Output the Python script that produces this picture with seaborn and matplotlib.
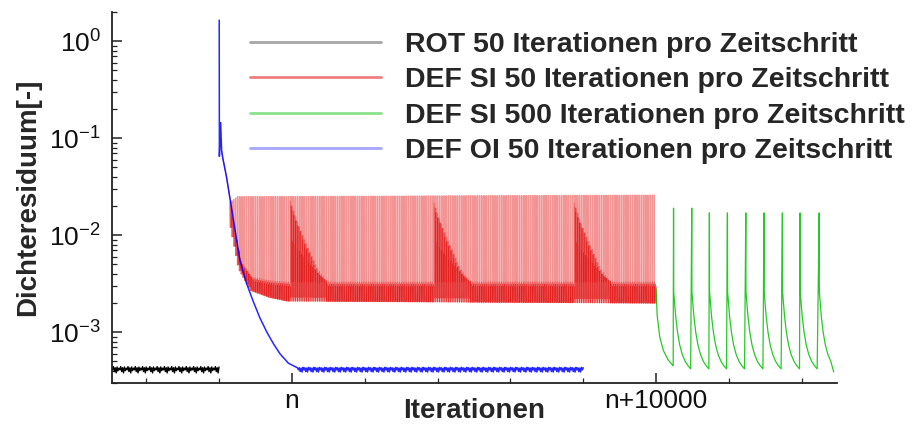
import numpy as np
import pandas as pd
import matplotlib
matplotlib.use("Agg")
import matplotlib.pyplot as plt
import seaborn as sns
from matplotlib.lines import Line2D
from matplotlib.ticker import FixedLocator, FixedFormatter, NullFormatter

# ---------------- data (iterations relative to n) ----------------
series_labels = [
    "ROT 50 Iterationen pro Zeitschritt",
    "DEF SI 50 Iterationen pro Zeitschritt",
    "DEF SI 500 Iterationen pro Zeitschritt",
    "DEF OI 50 Iterationen pro Zeitschritt",
]
x_major_ticks = [0, 10000]
x_major_labels = ["n", "n+10000"]
x_minor_ticks = [-4000, -2000, 2000, 4000, 6000, 8000, 12000, 14000]

# ROT: flat residual with small ripple (sample every 25 iterations)
rot_x_range = [-4930, -2000]
rot_level = 4.1e-4
rot_ripple = [1.00, 1.08, 0.96, 1.05, 0.93, 1.07, 0.98, 1.04]

# DEF OI: decay knots, then flat ripple
oi_x = [-2000, -1995, -1960, -1935, -1900, -1800, -1650, -1430, -1250,
        -1070, -880, -690, -500, -330, -100, 150]
oi_y = [1.65, 0.065, 0.145, 0.075, 0.062, 0.040, 0.018, 5.5e-3, 3.2e-3,
        2.1e-3, 1.4e-3, 1.0e-3, 7.5e-4, 6.0e-4, 4.8e-4, 4.3e-4]
oi_flat_range = [150, 8000]
oi_flat_level = 4.1e-4
oi_ripple = [1.00, 1.05, 0.96, 1.04, 0.95, 1.06]

# DEF SI 50: one spike per 50-iteration time step
si50_range = [-1700, 10000]
si50_step = 50
si50_peak_x = [-1700, -1500, 10000]
si50_peak_y = [0.022, 0.025, 0.026]
si50_floor_x = [-1700, -1430, -1100, -600, -100, 10000]
si50_floor_hi = [0.020, 5.5e-3, 3.7e-3, 3.4e-3, 3.3e-3, 3.3e-3]
si50_floor_lo = [0.015, 4.5e-3, 2.7e-3, 2.3e-3, 2.1e-3, 2.0e-3]
si50_event_x = [-60, 3870, 7720]
si50_event_dx = [0, 250, 500, 750, 1000]
si50_event_y = [0.023, 0.0125, 7.5e-3, 4.6e-3, 3.3e-3]

# DEF SI 500: one spike per 500-iteration time step
si500_start_x = [10000, 10030, 10100, 10200, 10330, 10470]
si500_start_y = [2.8e-3, 1.5e-3, 9.0e-4, 6.5e-4, 5.2e-4, 4.5e-4]
si500_spike_x = [10480, 10980, 11465, 11960, 12465, 12965, 13470, 13955, 14480]
si500_spike_y = [0.019, 0.019, 0.017, 0.017, 0.017, 0.017, 0.017, 0.017, 0.017]
si500_decay_dx = [5, 25, 60, 110, 170, 240, 320, 400, 470]
si500_decay_y = [2.6e-3, 2.1e-3, 1.45e-3, 1.0e-3, 7.4e-4, 5.9e-4, 5.0e-4, 4.5e-4, 4.2e-4]
si500_end_x = 14930


def logi(x, xp, yp):
    return 10 ** np.interp(x, xp, np.log10(yp))


# ---------------- build series ----------------
rx = np.arange(rot_x_range[0], rot_x_range[1] + 1, 25)
ry = rot_level * np.resize(rot_ripple, len(rx))
df_rot = pd.DataFrame({"x": rx, "y": ry})

fx = np.arange(oi_flat_range[0] + 25, oi_flat_range[1] + 1, 25)
fy = oi_flat_level * np.resize(oi_ripple, len(fx))
df_oi = pd.DataFrame({"x": np.concatenate([oi_x, fx]), "y": np.concatenate([oi_y, fy])})

# DEF SI 50: each time step is its own unit so transparency accumulates
rows = []
for xv, yv in zip(oi_x[3:7], oi_y[3:7]):
    rows.append((xv, yv, -1, False))
for k, t in enumerate(np.arange(si50_range[0], si50_range[1], si50_step)):
    pk = logi(t, si50_peak_x, si50_peak_y)
    fh = logi(t, si50_floor_x, si50_floor_hi)
    fl = logi(t + si50_step - 1, si50_floor_x, si50_floor_lo)
    ev = None
    for ex in si50_event_x:
        if ex <= t <= ex + si50_event_dx[-1]:
            ev = logi(t - ex, si50_event_dx, si50_event_y)
    if ev is not None and ev > fh:
        pts = [(0, pk), (3, ev), (10, fh), (17, ev * 0.9), (24, fl * 1.1),
               (31, ev * 0.8), (38, fh), (44, np.sqrt(ev * fh)), (49, fl)]
    else:
        pts = [(0, pk), (3, fh), (12, fl), (22, fh * 0.95), (32, fl * 1.05),
               (41, fh * 0.9), (49, fl)]
    rows.append((t - 1, fl, k, False))
    for i, (dx, v) in enumerate(pts):
        rows.append((t + dx, v, k, i > 0))
df_si50 = pd.DataFrame(rows, columns=["x", "y", "step", "floor"])
df_si50_floor = df_si50[df_si50["floor"]]

gx = list(si500_start_x)
gy = list(si500_start_y)
for s, p in zip(si500_spike_x, si500_spike_y):
    gx.append(s); gy.append(p)
    for dx, dy in zip(si500_decay_dx, si500_decay_y):
        if s + dx <= si500_end_x:
            gx.append(s + dx); gy.append(dy)
gy[-1] = 3.9e-4
df_si500 = pd.DataFrame({"x": gx, "y": gy})

# ---------------- plot ----------------
sns.set_style("ticks")
plt.rcParams["font.family"] = ["Liberation Sans", "DejaVu Sans"]

fig = plt.figure(figsize=(9.16, 4.28), dpi=100)
ax = fig.add_axes([112 / 916, 1 - 383 / 428, (837 - 112) / 916, (383 - 12) / 428])

colors = ["#000000", "#e00000", "#00c000", "#0000ff"]
common = dict(ax=ax, x="x", y="y", estimator=None, sort=False, legend=False)
sns.lineplot(data=df_si50, units="step", color=colors[1], lw=0.85, alpha=0.42, **common)
sns.lineplot(data=df_si50_floor, units="step", color=colors[1], lw=0.7, alpha=0.38, **common)
sns.lineplot(data=df_oi, color=colors[3], lw=1.1, alpha=0.85, **common)
sns.lineplot(data=df_rot, color=colors[0], lw=1.0, **common)
sns.lineplot(data=df_si500, color=colors[2], lw=0.9, alpha=0.85, **common)

ax.set_yscale("log")
ax.set_ylim(3.0e-4, 2.0)
ax.set_xlim(-4945, 14970)

ax.xaxis.set_major_locator(FixedLocator(x_major_ticks))
ax.xaxis.set_major_formatter(FixedFormatter(x_major_labels))
ax.xaxis.set_minor_locator(FixedLocator(x_minor_ticks))
ax.yaxis.set_minor_formatter(NullFormatter())

for s in ["top", "right"]:
    ax.spines[s].set_visible(False)
for s in ["left", "bottom"]:
    ax.spines[s].set_linewidth(1.3)
    ax.spines[s].set_color("#222222")

ax.tick_params(which="major", direction="in", length=7, width=1.1, labelsize=19,
               color="#222222", labelcolor="#111111")
ax.tick_params(which="minor", direction="in", length=3.5, width=0.9, color="#222222")
ax.tick_params(axis="y", which="major", pad=8)
ax.tick_params(axis="x", which="major", pad=4)

ax.set_xlabel("Iterationen", fontsize=20, fontweight="bold")
ax.set_ylabel("Dichteresiduum[-]", fontsize=20, fontweight="bold")
ax.xaxis.set_label_coords(0.5, -0.04)
ax.yaxis.set_label_coords(-0.098, 0.5)

handles = [Line2D([0], [0], color=c, lw=2.0, alpha=a)
           for c, a in zip(colors, [0.35, 0.5, 0.45, 0.35])]
ax.legend(handles, series_labels, loc="upper left",
          bbox_to_anchor=(250 / 916, 1 - 32 / 428), bbox_transform=fig.transFigure,
          frameon=False, prop={"weight": "bold", "size": 20.5},
          handlelength=4.6, handletextpad=0.85, labelspacing=0.33, borderpad=0,
          borderaxespad=0)

fig.savefig("out.png", dpi=100)
